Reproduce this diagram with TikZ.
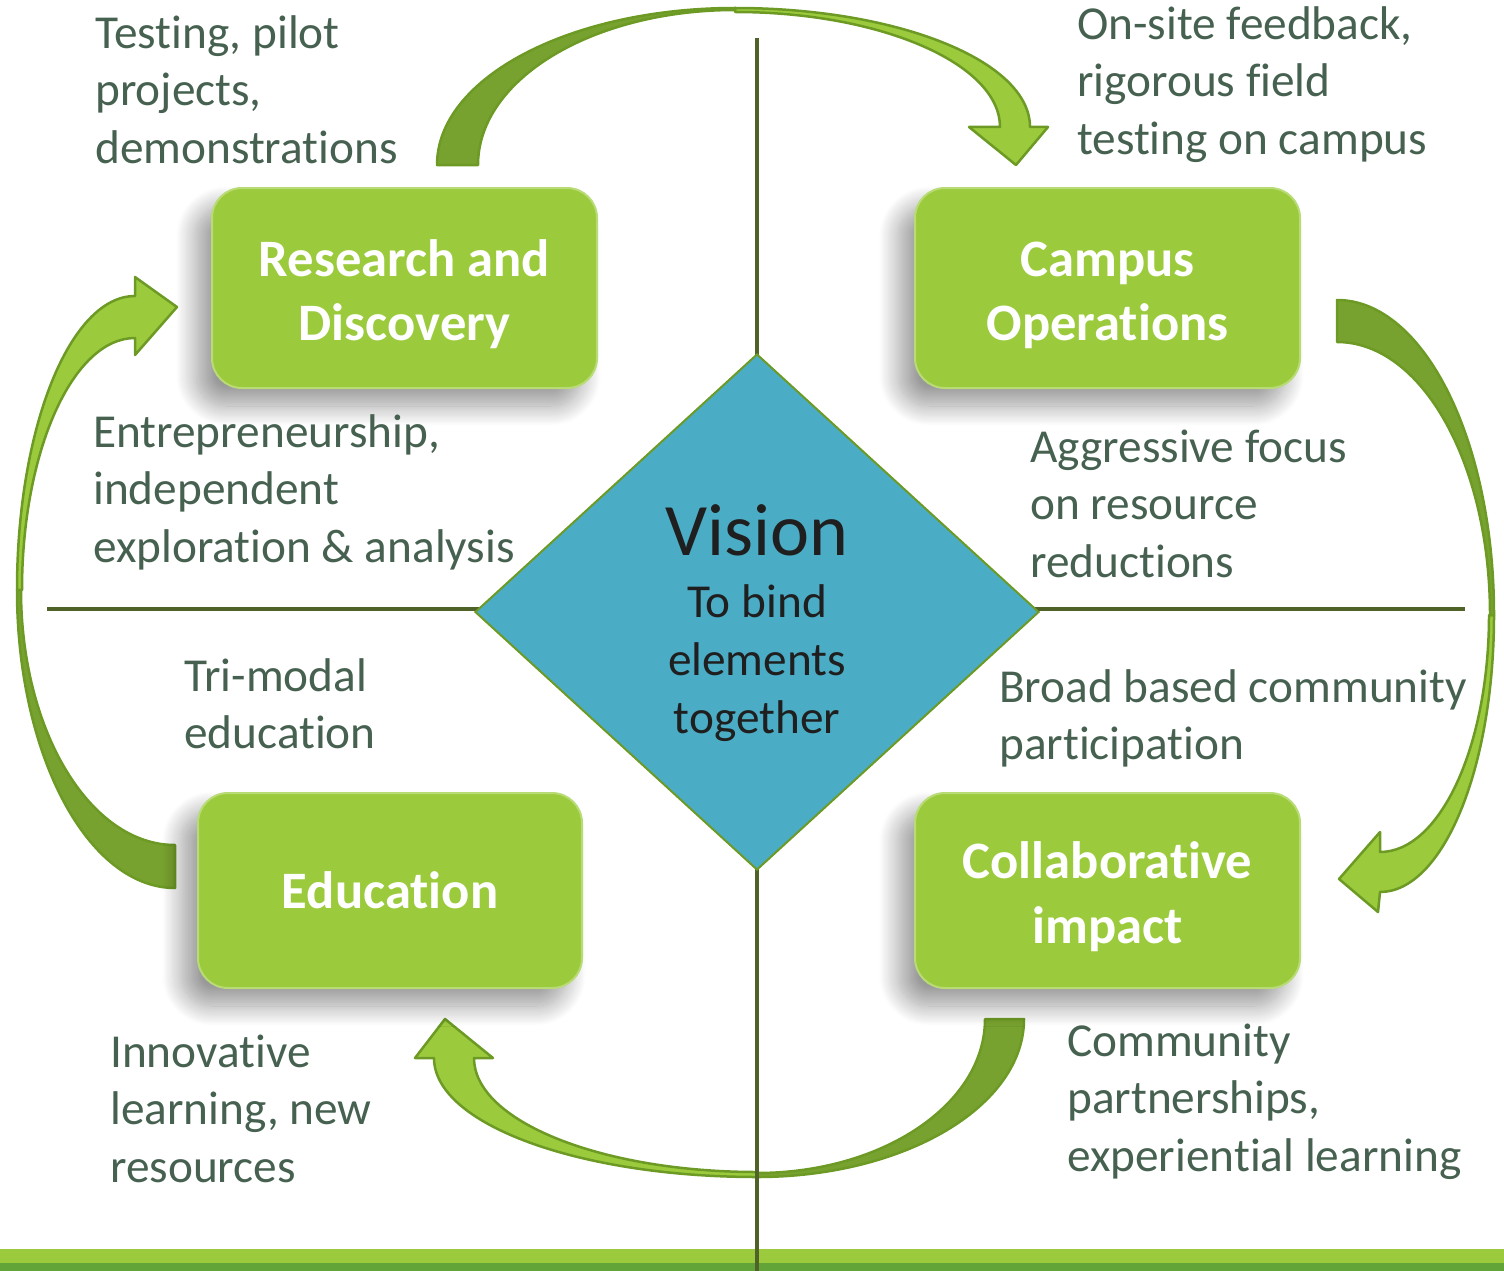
\documentclass[tikz,border=0pt]{standalone}
\usepackage{fontspec}
\setmainfont{Carlito}[Ligatures={NoCommon}]
\usetikzlibrary{shapes.geometric,shadows.blur}

\definecolor{boxgreen}{HTML}{9BCB3C}
\definecolor{arrowdark}{HTML}{78A22F}
\definecolor{arrowedge}{HTML}{6C9A24}
\definecolor{axisgreen}{HTML}{4F6228}
\definecolor{notegray}{HTML}{466150}
\definecolor{visionblue}{HTML}{4BACC6}
\definecolor{bardark}{HTML}{62A438}

\newcommand{\boxstrut}{\rule{0pt}{49pt}}

\tikzset{
  topic/.style={rectangle, rounded corners=30pt, fill=boxgreen,
    draw=boxgreen!70!white, line width=2pt, text=white, align=center,
    font=\fontsize{52.6}{64.5}\selectfont\bfseries,
    blur shadow={shadow xshift=-16pt, shadow yshift=-18pt,
      shadow blur radius=20pt, shadow blur steps=24, shadow opacity=40}},
  note/.style={anchor=base west, align=left, inner sep=0pt, text=notegray,
    font=\fontsize{47.3}{57.5}\selectfont},
  axis/.style={draw=axisgreen, line width=4pt},
  backpart/.style={fill=arrowdark, draw=arrowedge, line width=2.5pt, line join=round},
  frontpart/.style={fill=boxgreen, draw=arrowedge, line width=2.5pt, line join=round},
}

\begin{document}
\begin{tikzpicture}[x=1pt, y=-1pt]
  \useasboundingbox (0,0) rectangle (1504,1271);

  % ground bar
  \fill[boxgreen] (0,1249) rectangle (1504,1263);
  \fill[bardark] (0,1263) rectangle (1504,1271);

  % curved arrows: research -> campus
  \draw[frontpart] (735,8) .. controls (898,8) and (1030,61) .. (1030,127)
    -- (1048,127) -- (1016,165) -- (969,127) -- (1000,127)
    .. controls (1000,64) and (881,12) .. (735,12) -- cycle;
  \draw[backpart] (437,165) .. controls (437,78) and (570,8) .. (735,8)
    -- (735,10) .. controls (593,10) and (478,79) .. (478,165) -- cycle;

  % campus -> collaborative
  \draw[frontpart] (1494,615) .. controls (1494,768) and (1443,892) .. (1380,892)
    -- (1378,912) -- (1339,879) -- (1380,832) -- (1380,852)
    .. controls (1440,852) and (1489,746) .. (1489,615) -- cycle;
  \draw[backpart] (1337,300) .. controls (1424,300) and (1494,441) .. (1494,615)
    -- (1490,615) .. controls (1490,464) and (1422,342) .. (1337,342) -- cycle;

  % collaborative -> education
  \draw[frontpart] (757,1177) .. controls (579,1177) and (434,1124) .. (434,1058)
    -- (415,1058) -- (445,1019) -- (493,1058) -- (474,1058)
    .. controls (474,1121) and (601,1172) .. (757,1172) -- cycle;
  \draw[backpart] (1024,1019) .. controls (1024,1106) and (905,1177) .. (757,1177)
    -- (757,1173) .. controls (883,1173) and (985,1104) .. (985,1019) -- cycle;

  % education -> research
  \draw[frontpart] (17,590) .. controls (17,428) and (70,296) .. (135,296)
    -- (135,277) -- (177,307) -- (135,355) -- (135,338)
    .. controls (73,338) and (22,451) .. (22,590) -- cycle;
  \draw[backpart] (175,888) .. controls (88,888) and (17,755) .. (17,590)
    -- (21,590) .. controls (21,731) and (90,845) .. (175,845) -- cycle;

  % axes
  \coordinate (axtop) at (757,38);
  \coordinate (axbot) at (757,1271);
  \coordinate (axleft) at (47,609);
  \coordinate (axright) at (1465,609);
  \draw[axis] (axtop) -- (axbot);
  \draw[axis] (axleft) -- (axright);

  % centre
  \node[diamond, minimum width=564pt, minimum height=516pt, inner sep=0pt,
    fill=visionblue, draw=arrowedge, line width=2pt] (vision) at (757,612) {};
  \node[anchor=base, inner sep=0pt, text=black!88,
    font=\fontsize{74}{80}\selectfont] (visiontitle) at (757,555) {Vision};
  \node[anchor=base, inner sep=0pt, align=center, text=black!88,
    font=\fontsize{47.3}{58}\selectfont] (visiontext) at (757,733)
    {To bind\\elements\\together};

  % quadrants
  \node[topic, minimum width=385pt, minimum height=200pt] (research) at (404.5,288) {\boxstrut Research and\\Discovery};
  \node[topic, minimum width=385pt, minimum height=200pt] (campus) at (1107.5,288) {\boxstrut Campus\\Operations};
  \node[topic, minimum width=384pt, minimum height=195pt] (education) at (390,890.5) {Education};
  \node[topic, minimum width=385pt, minimum height=195pt] (collab) at (1107.5,890.5) {\boxstrut Collaborative\\impact};

  % notes (placed by their last baseline)
  \node[note] (testing) at (95,163) {Testing, pilot\\projects,\\demonstrations};
  \node[note] (feedback) at (1077,154) {On-site feedback,\\rigorous field\\testing on campus};
  \node[note] (entre) at (93,562) {Entrepreneurship,\\independent\\exploration \& analysis};
  \node[note] (focus) at (1030,577) {Aggressive focus\\on resource\\reductions};
  \node[note] (trimodal) at (184,748.5) {Tri-modal\\education};
  \node[note] (broad) at (999,759.5) {Broad based community\\participation};
  \node[note] (innov) at (110,1182) {Innovative\\learning, new\\resources};
  \node[note] (partner) at (1067,1171) {Community\\partnerships,\\experiential learning};
\end{tikzpicture}
\end{document}
